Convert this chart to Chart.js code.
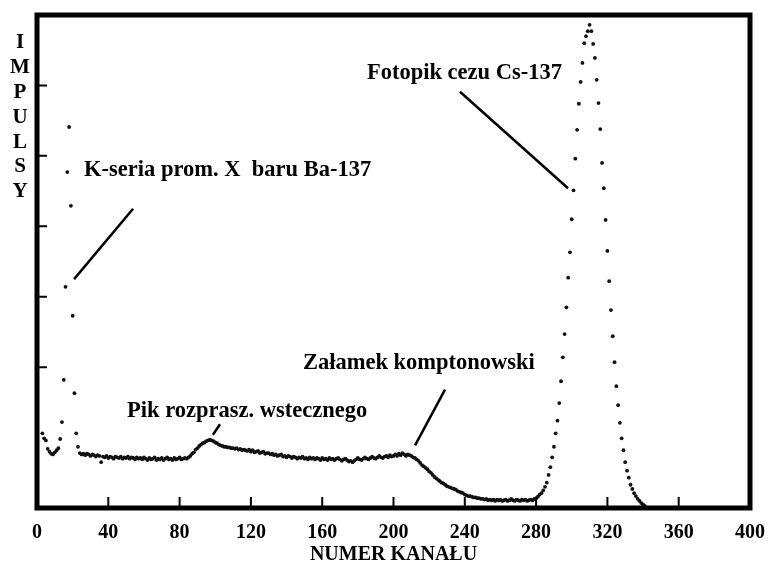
<!DOCTYPE html>
<html lang="pl">
<head>
<meta charset="UTF-8">
<title>Widmo Cs-137</title>
<script src="https://cdn.jsdelivr.net/npm/chart.js@4/dist/chart.umd.min.js"></script>
<style>
  html, body { margin: 0; padding: 0; background: #fff; }
  #wrap { width: 772px; height: 565px; }
</style>
</head>
<body>
<div id="wrap"><canvas id="widmo" width="772" height="565"></canvas></div>
<script>
// impulses in thousands, one value per channel
const lowStart = 3;
const lowCounts = [
    1.06, 0.99, 0.96, 0.84, 0.80, 0.77, 0.76, 0.79, 0.82, 0.85,
    0.98, 1.22, 1.82, 3.14, 4.77, 5.41, 4.29, 2.73, 1.63, 1.06, 0.87
];

const comptonStart = 24;
const comptonCounts = [
    0.78, 0.76, 0.77, 0.75, 0.77, 0.76, 0.74, 0.76, 0.75, 0.73, 0.75, 0.74,
    0.65, 0.73, 0.72, 0.74, 0.71, 0.73, 0.72, 0.70, 0.73, 0.72, 0.71, 0.73,
    0.70, 0.72, 0.71, 0.73, 0.70, 0.72, 0.71, 0.69, 0.72, 0.70,
    0.71, 0.69, 0.72, 0.70, 0.68, 0.71, 0.69, 0.70, 0.72, 0.68, 0.70, 0.69,
    0.71, 0.68, 0.70, 0.72, 0.69, 0.70, 0.68, 0.71, 0.69, 0.70, 0.72, 0.69,
    0.70, 0.71, 0.70, 0.72,
    0.74, 0.77, 0.79, 0.83, 0.85, 0.88, 0.90, 0.92, 0.93, 0.95, 0.96, 0.97, 0.96, 0.95,
    0.93, 0.92, 0.90, 0.89, 0.88, 0.87, 0.87, 0.86, 0.86, 0.85, 0.85, 0.84,
    0.85, 0.83, 0.84, 0.82, 0.83, 0.82, 0.81, 0.83, 0.80, 0.82, 0.79, 0.80,
    0.81, 0.78, 0.79, 0.80, 0.77, 0.78, 0.78,
    0.76, 0.77, 0.75, 0.76, 0.74, 0.75, 0.76, 0.73, 0.74, 0.72, 0.74, 0.73,
    0.71, 0.73, 0.72, 0.70, 0.72, 0.71, 0.73, 0.70, 0.71, 0.69, 0.72, 0.70,
    0.71, 0.69, 0.71, 0.70, 0.68, 0.71, 0.69, 0.70, 0.68, 0.71, 0.69,
    0.70, 0.68, 0.70, 0.71, 0.69, 0.67, 0.69, 0.70, 0.68, 0.66, 0.67, 0.65,
    0.67, 0.69, 0.71, 0.69, 0.68, 0.70, 0.72, 0.70, 0.69, 0.71, 0.73, 0.71,
    0.70, 0.72, 0.74, 0.72, 0.71, 0.73, 0.74, 0.72, 0.75, 0.73, 0.74,
    0.76, 0.74, 0.77, 0.75, 0.78, 0.76, 0.74, 0.76, 0.75, 0.74, 0.72, 0.71,
    0.69, 0.67, 0.64, 0.61, 0.59, 0.57, 0.55, 0.52, 0.50, 0.47, 0.44, 0.42,
    0.40, 0.38, 0.36, 0.35, 0.33, 0.31, 0.30, 0.29, 0.28, 0.27, 0.26, 0.24,
    0.23, 0.22, 0.21, 0.19, 0.18, 0.17, 0.17, 0.16, 0.15,
    0.15, 0.14, 0.14, 0.13, 0.13, 0.12, 0.13, 0.11, 0.12, 0.11, 0.12, 0.10,
    0.12, 0.11, 0.12, 0.10, 0.11, 0.12, 0.10, 0.11, 0.13, 0.11, 0.10, 0.12,
    0.11, 0.10, 0.12, 0.11, 0.12, 0.10, 0.11, 0.12, 0.11, 0.13, 0.14, 0.16, 0.19
];

const peakStart = 283;
const peakCounts = [
    0.21, 0.25, 0.30, 0.36, 0.47, 0.58, 0.72, 0.87, 1.06, 1.24, 1.49, 1.80,
    2.14, 2.47, 2.85, 3.27, 3.63, 4.10, 4.51, 4.96, 5.37, 5.74, 6.05, 6.32,
    6.60, 6.70, 6.77, 6.86, 6.77, 6.59, 6.39, 6.08, 5.75, 5.38, 4.90, 4.54,
    4.09, 3.65, 3.22, 2.81, 2.44, 2.07, 1.73, 1.46, 1.21, 0.99, 0.82, 0.65,
    0.53, 0.43, 0.33, 0.27, 0.21, 0.17, 0.13, 0.10, 0.07, 0.05, 0.03
];

const xTicks = [0, 40, 80, 120, 160, 200, 240, 280, 320, 360, 400];
const yTicks = [2, 3, 4, 5, 6];
const yTitle = ['I', 'M', 'P', 'U', 'L', 'S', 'Y'];

// labels: text, where it starts (channel, thousands), pointer line from -> to
const notes = [
    { text: 'K-seria prom. X  baru Ba-137', at: [26.4, 4.80], from: [53.9, 4.25], to: [20.8, 3.25] },
    { text: 'Fotopik cezu Cs-137', at: [185.1, 6.18], from: [237.3, 5.91], to: [297.9, 4.54] },
    { text: 'Załamek komptonowski', at: [149.2, 2.05], from: [228.9, 1.68], to: [212.1, 0.89] },
    { text: 'Pik rozprasz. wstecznego', at: [50.5, 1.38], from: [102.7, 1.19], to: [98.7, 1.04] }
];

function toPoints(start, values) {
    return values.map((v, i) => ({ x: start + i, y: v }));
}

const serif = '"Liberation Serif", "Times New Roman", serif';

const framePlugin = {
    id: 'frame',
    afterDatasetsDraw(chart) {
        const { ctx, chartArea: a, scales: { x, y } } = chart;
        ctx.save();
        ctx.strokeStyle = '#000';

        // inward ticks
        ctx.lineWidth = 2;
        ctx.beginPath();
        xTicks.slice(1, -1).forEach(t => {
            const px = x.getPixelForValue(t);
            ctx.moveTo(px, a.bottom);
            ctx.lineTo(px, a.bottom - 11);
        });
        yTicks.forEach(t => {
            const py = y.getPixelForValue(t);
            ctx.moveTo(a.left, py);
            ctx.lineTo(a.left + 10, py);
        });
        ctx.stroke();

        ctx.lineWidth = 5;
        ctx.strokeRect(a.left, a.top, a.right - a.left, a.bottom - a.top);

        // annotations
        ctx.fillStyle = '#000';
        ctx.font = 'bold 22.5px ' + serif;
        ctx.textBaseline = 'middle';
        ctx.textAlign = 'left';
        ctx.lineWidth = 2.5;
        notes.forEach(n => {
            ctx.fillText(n.text, x.getPixelForValue(n.at[0]), y.getPixelForValue(n.at[1]));
            ctx.beginPath();
            ctx.moveTo(x.getPixelForValue(n.from[0]), y.getPixelForValue(n.from[1]));
            ctx.lineTo(x.getPixelForValue(n.to[0]), y.getPixelForValue(n.to[1]));
            ctx.stroke();
        });

        // stacked y title
        ctx.font = 'bold 21px ' + serif;
        ctx.textAlign = 'center';
        yTitle.forEach((ch, i) => {
            ctx.fillText(ch, 20, a.top + 28 + i * 24.8);
        });
        ctx.restore();
    }
};

const dotStyle = {
    showLine: false,
    pointRadius: 1.9,
    pointBorderWidth: 0,
    pointBackgroundColor: '#111',
    pointBorderColor: '#111'
};

new Chart(document.getElementById('widmo'), {
    type: 'scatter',
    data: {
        datasets: [
            { label: 'K-seria', data: toPoints(lowStart, lowCounts), ...dotStyle },
            { label: 'Compton', data: toPoints(comptonStart, comptonCounts), ...dotStyle },
            { label: 'Fotopik', data: toPoints(peakStart, peakCounts), ...dotStyle }
        ]
    },
    options: {
        responsive: false,
        animation: false,
        devicePixelRatio: 1,
        layout: { padding: { left: 37, right: 22, top: 15, bottom: 0 } },
        plugins: {
            legend: { display: false },
            tooltip: { enabled: false }
        },
        scales: {
            x: {
                type: 'linear',
                min: 0,
                max: 400,
                afterBuildTicks: scale => { scale.ticks = xTicks.map(v => ({ value: v })); },
                afterFit: scale => {
                    scale.height = 57;
                    scale.paddingLeft = 0;
                    scale.paddingRight = 0;
                },
                ticks: {
                    autoSkip: false,
                    maxRotation: 0,
                    padding: 15,
                    color: '#000',
                    font: { family: serif, size: 20, weight: 'bold', lineHeight: 1 }
                },
                grid: { display: false, drawTicks: false },
                border: { display: false },
                title: {
                    display: true,
                    text: 'NUMER KANAŁU',
                    color: '#000',
                    font: { family: serif, size: 20, weight: 'bold', lineHeight: 1 },
                    padding: { top: 2, bottom: 0 }
                }
            },
            y: {
                display: false,
                min: 0,
                max: 7
            }
        }
    },
    plugins: [framePlugin]
});
</script>
</body>
</html>
